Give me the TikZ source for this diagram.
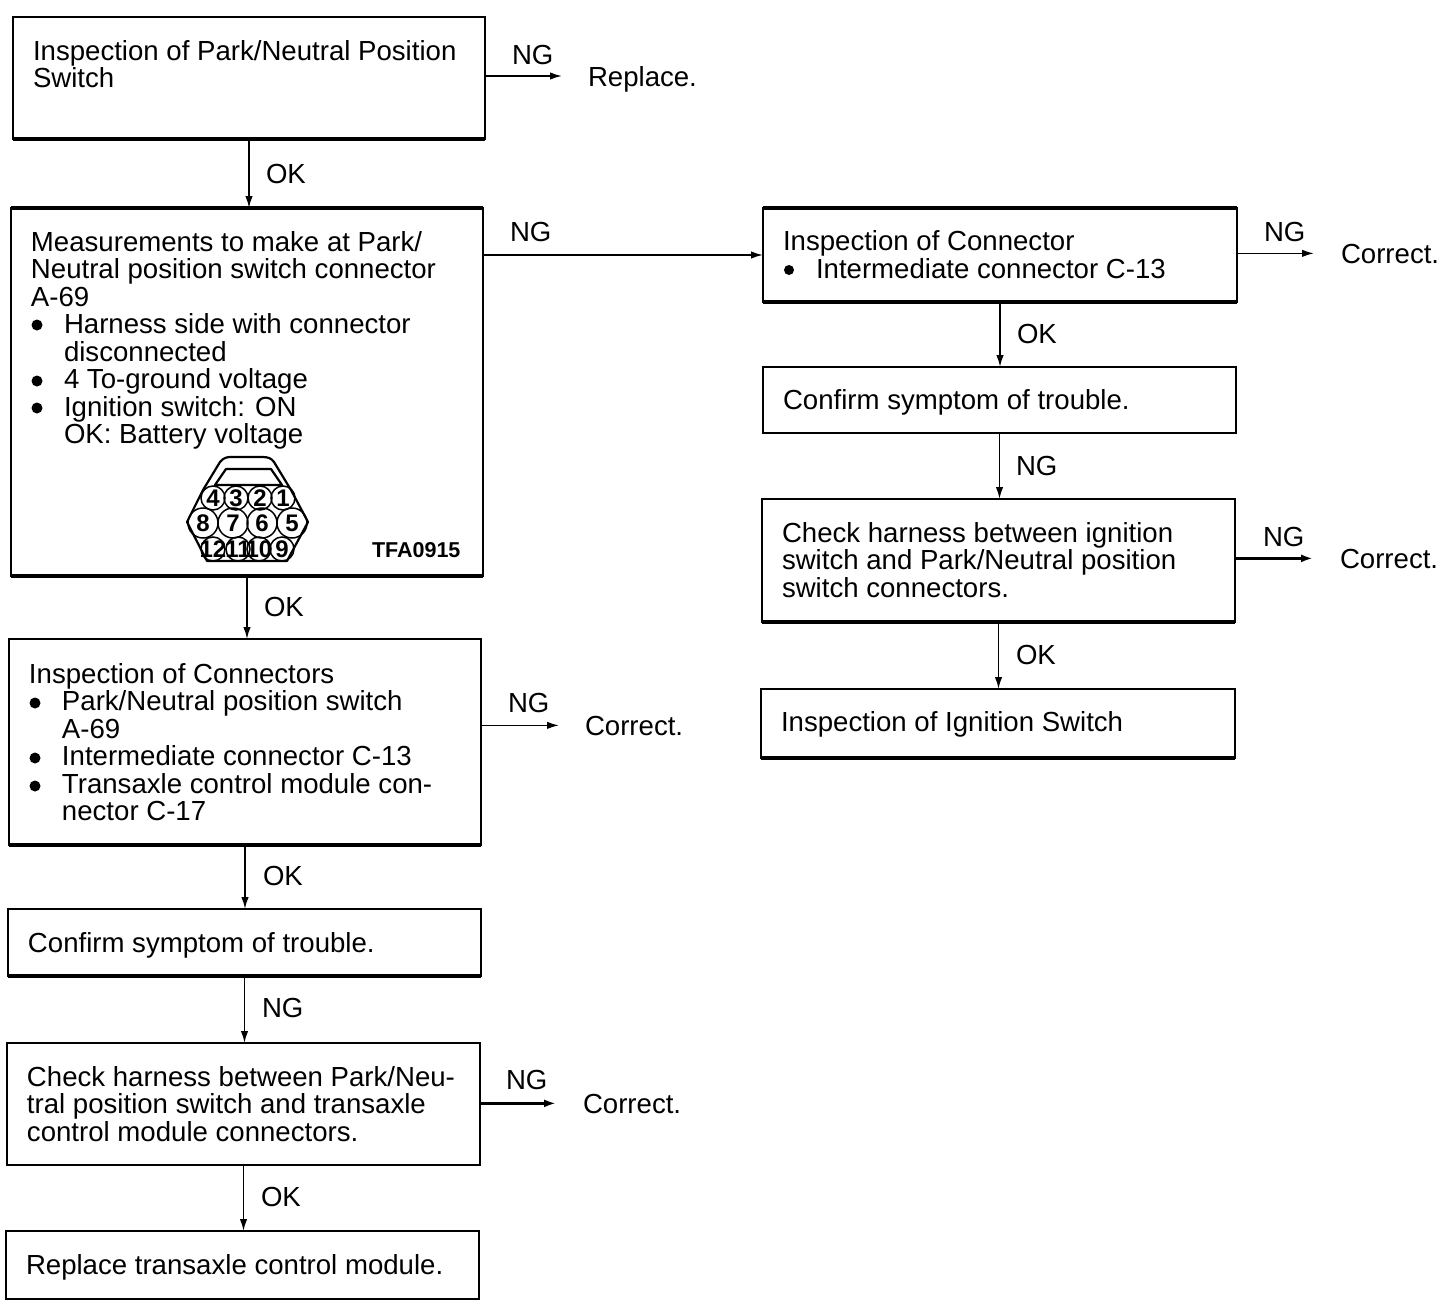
\documentclass[tikz,border=0pt]{standalone}
\usepackage{fontspec}
\setmainfont{Liberation Sans}
\usetikzlibrary{arrows.meta}
% box text: width, height, first-baseline drop, text
\newcommand{\bxt}[4]{\parbox[c][#2pt][t]{#1pt}{\fontsize{27.6}{27.5}\selectfont\raggedright\leftskip=20pt\parindent=0pt\rule{0pt}{#3pt}#4}}
\newcommand{\ind}{\hspace*{33pt}}
\newcommand{\tight}[1]{\makebox[0pt]{#1}}
\tikzset{
  x=1pt,y=-1pt,
  box/.style={draw=black,line width=2.2pt,inner sep=0pt,outer sep=0pt,anchor=north west,fill=white},
  lbl/.style={inner sep=0pt,outer sep=0pt,anchor=base west,text depth=0pt,font=\fontsize{27.6}{27.5}\selectfont},
  arr/.style={draw=black,line width=1.7pt,-{Latex[length=12pt,width=7.5pt]}},
  heavy/.style={arr,line width=3.4pt,-{Latex[length=12pt,width=8pt]}},
  edge/.style={draw=black,line width=3.6pt,line cap=square},
  dot/.style={fill=black,draw=none},
  pin/.style={draw=black,circle,line width=1.5pt,inner sep=0pt,outer sep=0pt,font=\fontsize{24}{24}\selectfont\bfseries},
  pinb/.style={pin,minimum size=24pt},
  pinw/.style={pin,minimum size=30pt},
  conn/.style={draw=black,line width=2.2pt,line join=round},
}
\begin{document}
\begin{tikzpicture}
\useasboundingbox (0,0) rectangle (1456,1306);
% left column
\node[box] (b1) at (13,17) {\bxt{472}{122}{43}{Inspection of Park/Neutral Position\\Switch}};
\node[box] (b2) at (11,208) {\bxt{472}{368}{43}{Measurements to make at Park/\\Neutral position switch connector\\A-69\\\ind Harness side with connector\\\ind disconnected\\\ind 4 To-ground voltage\\\ind Ignition switch: ON\\\ind OK: Battery voltage}};
\node[box] (b3) at (9,639) {\bxt{472}{206}{44}{Inspection of Connectors\\\ind Park/Neutral position switch\\\ind A-69\\\ind Intermediate connector C-13\\\ind Transaxle control module con-\\\ind nector C-17}};
\node[box] (b4) at (8,909) {\bxt{473}{67}{43}{Confirm symptom of trouble.}};
\node[box] (b5) at (7,1043) {\bxt{473}{122}{43}{Check harness between Park/Neu-\\tral position switch and transaxle\\control module connectors.}};
\node[box] (b6) at (6,1231) {\bxt{473}{68}{43}{Replace transaxle control module.}};
% right column
\node[box] (r1) at (763,208) {\bxt{474}{94}{42.5}{Inspection of Connector\\\ind Intermediate connector C-13}};
\node[box] (r2) at (763,367) {\bxt{473}{66}{42}{Confirm symptom of trouble.}};
\node[box] (r3) at (762,499) {\bxt{473}{123}{43}{Check harness between ignition\\switch and Park/Neutral position\\switch connectors.}};
\node[box] (r4) at (761,689) {\bxt{474}{69}{42}{Inspection of Ignition Switch}};
% heavier edges of the scanned boxes
\draw[edge] (b1.south west) -- (b1.south east);
\draw[edge] (b2.north west) -- (b2.north east);
\draw[edge] (b2.south west) -- (b2.south east);
\draw[edge] (b3.south west) -- (b3.south east);
\draw[edge] (b4.south west) -- (b4.south east);
\draw[edge] (r1.north west) -- (r1.north east);
\draw[edge] (r1.south west) -- (r1.south east);
\draw[edge] (r3.south west) -- (r3.south east);
\draw[edge] (r4.south west) -- (r4.south east);
% bullets
\fill[dot] (37,325) circle (5.5);
\fill[dot] (37,381) circle (5.5);
\fill[dot] (37,408) circle (5.5);
\fill[dot] (35,703) circle (5.5);
\fill[dot] (35,758) circle (5.5);
\fill[dot] (35,786) circle (5.5);
\fill[dot] (789,270) circle (5);
% results
\node[lbl] (e1) at (588,86) {Replace.};
\node[lbl] (e2) at (585,735) {Correct.};
\node[lbl] (e3) at (583,1113) {Correct.};
\node[lbl] (e4) at (1341,263) {Correct.};
\node[lbl] (e5) at (1340,568) {Correct.};
% vertical connectors
\draw[arr] (b1.south) -- (b1.south |- b2.north);
\draw[arr] (b2.south) -- (b2.south |- b3.north);
\draw[arr] (b3.south) -- (b3.south |- b4.north);
\draw[arr] (b4.south) -- (b4.south |- b5.north);
\draw[arr] (b5.south) -- (b5.south |- b6.north);
\draw[arr] (r1.south) -- (r1.south |- r2.north);
\draw[arr] (r2.south) -- (r2.south |- r3.north);
\draw[arr] (r3.south) -- (r3.south |- r4.north);
% horizontal connectors
\draw[arr,shorten >=26pt] (e1.west -| b1.east) -- (e1.west);
\draw[arr] (r1.west -| b2.east) -- (r1.west);
\draw[arr,shorten >=26pt] (e2.west -| b3.east) -- (e2.west);
\draw[heavy,shorten >=27pt] (e3.west -| b5.east) -- (e3.west);
\draw[arr,shorten >=27pt] (e4.west -| r1.east) -- (e4.west);
\draw[heavy,shorten >=27pt] (e5.west -| r3.east) -- (e5.west);
% connector labels
\node[lbl] (l1) at (512,64) {NG};
\node[lbl] (l2) at (266,183) {OK};
\node[lbl] (l3) at (510,241) {NG};
\node[lbl] (l4) at (264,616) {OK};
\node[lbl] (l5) at (508,712) {NG};
\node[lbl] (l6) at (263,885) {OK};
\node[lbl] (l7) at (262,1017) {NG};
\node[lbl] (l8) at (506,1089) {NG};
\node[lbl] (l9) at (261,1206) {OK};
\node[lbl] (l10) at (1264,241) {NG};
\node[lbl] (l11) at (1017,343) {OK};
\node[lbl] (l12) at (1016,475) {NG};
\node[lbl] (l13) at (1263,546) {NG};
\node[lbl] (l14) at (1016,664) {OK};
% connector figure
\draw[conn] (187,522) -- (203,490) -- (220,462) .. controls (224,457) and (228,457) .. (232,457) -- (262,457) .. controls (268,457) and (271,458) .. (274,462) -- (291,490) -- (308,522) -- (287,561) -- (207,561) -- cycle;
\draw[conn] (215,485) -- (226,469) -- (271,469) -- (282,485) -- cycle;
\node[pinb] (p4) at (213,498) {4};
\node[pinb] (p3) at (236,498) {3};
\node[pinb] (p2) at (260,498) {2};
\node[pinb] (p1) at (283,498) {1};
\node[pinw] (p8) at (203,523) {8};
\node[pinw] (p7) at (233,523) {7};
\node[pinw] (p6) at (262,523) {6};
\node[pinw] (p5) at (292,523) {5};
\node[pinb] (p12) at (213,549) {\tight{12}};
\node[pinb] (p11) at (238,549) {\tight{11}};
\node[pinb] (p10) at (259,549) {\tight{10}};
\node[pinb] (p9) at (282,549) {9};
\node[lbl,font=\fontsize{21.5}{21.5}\selectfont\bfseries] (code) at (372,557) {TFA0915};
\end{tikzpicture}
\end{document}
